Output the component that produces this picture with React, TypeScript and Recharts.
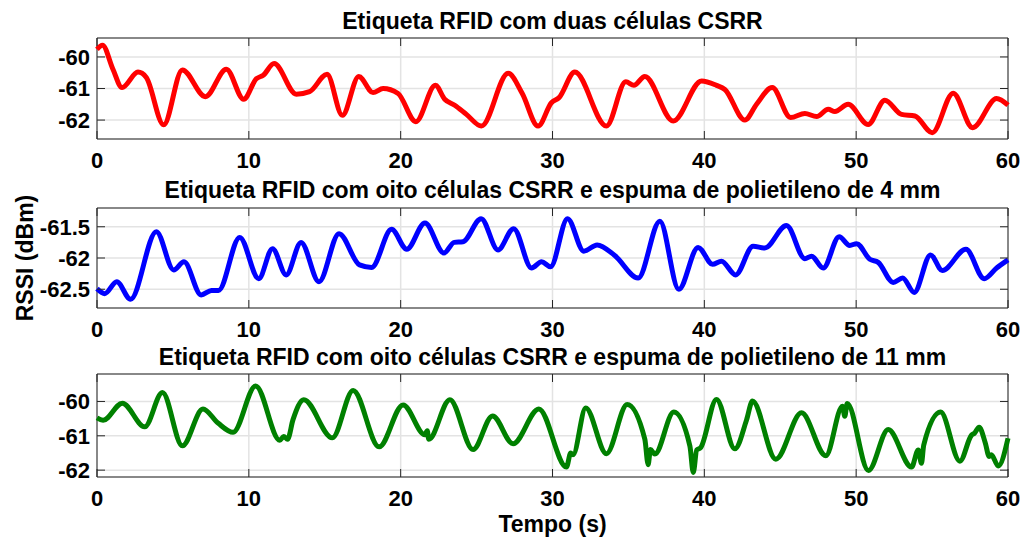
import React from 'react';
import { LineChart, Line, XAxis, YAxis, CartesianGrid, ReferenceArea } from 'recharts';

const FONT = '"Liberation Sans", Arial, Helvetica, sans-serif';
const INK = '#262626';
const GRID = '#e3e3e3';

// layout of the three axes boxes (px)
const CHART_W = 1027;
const PLOT_LEFT = 97;
const PLOT_RIGHT = 1008;
const AXIS_H = 40;
const GAP_X = 13;
const GAP_Y = 7;
const TICK_LEN = 8;

const xTicks = [0, 10, 20, 30, 40, 50, 60];
const xLabel = 'Tempo (s)';
const yLabel = 'RSSI (dBm)';

// painel 1 - duas células
const duasTitle = 'Etiqueta RFID com duas células CSRR';
const duasTempo = [0, 0.36, 1.05, 1.65, 2.7, 3.25, 4.39, 5.62, 7.14, 8.52, 9.66, 10.5, 10.95, 11.66, 13.13, 14.0, 15.15, 16.16, 17.24, 18.18, 18.84, 19.83, 21.0, 22.29, 22.9, 23.56, 24.33, 25.32, 27.08, 28.0, 29.05, 29.93, 30.43, 31.47, 33.55, 34.83, 35.36, 36.08, 37.95, 39.82, 40.8, 41.35, 42.67, 43.44, 44.47, 45.68, 46.62, 47.39, 48.16, 48.6, 49.47, 50.79, 51.89, 52.99, 53.87, 55.01, 56.39, 57.67, 59.25, 60];
const duasRssi = [-59.76, -59.63, -60.39, -60.97, -60.48, -60.65, -62.15, -60.41, -61.26, -60.39, -61.34, -60.69, -60.58, -60.21, -61.18, -61.1, -60.55, -61.85, -60.62, -61.13, -61.0, -61.16, -62.05, -60.9, -61.34, -61.53, -61.82, -62.19, -60.52, -61.15, -62.19, -61.45, -61.29, -60.48, -62.19, -60.79, -60.9, -60.62, -62.03, -60.76, -60.9, -61.03, -62.0, -61.5, -60.97, -61.92, -61.79, -61.89, -61.66, -61.73, -61.5, -62.14, -61.37, -61.82, -61.87, -62.4, -61.15, -62.24, -61.32, -61.53];
const duasDomain: [number, number] = [-62.6, -59.4];
const duasTicks = [-62, -61, -60];

// painel 2 - oito células, espuma 4 mm
const quatroTitle = 'Etiqueta RFID com oito células CSRR e espuma de polietileno de 4 mm';
const quatroTempo = [0, 0.51, 1.3, 2.21, 3.91, 5.05, 5.73, 6.86, 7.54, 8.0, 9.4, 10.65, 11.56, 12.46, 13.44, 14.62, 15.94, 17.29, 18.09, 19.4, 20.4, 21.6, 22.85, 23.53, 24.1, 25.3, 26.41, 27.44, 28.62, 29.28, 29.87, 30.99, 32.06, 32.94, 34.1, 35.64, 37.07, 38.32, 39.59, 40.54, 41.13, 42.06, 43.21, 43.98, 45.41, 46.62, 47.06, 47.83, 48.88, 49.58, 50.03, 50.9, 51.45, 52.44, 53.06, 53.82, 54.9, 55.67, 57.23, 58.43, 59.25, 60];
const quatroRssi = [-62.49, -62.57, -62.38, -62.66, -61.58, -62.19, -62.06, -62.59, -62.52, -62.52, -61.67, -62.33, -61.85, -62.27, -61.75, -62.38, -61.61, -62.11, -62.15, -61.54, -61.86, -61.44, -61.92, -61.75, -61.74, -61.37, -61.87, -61.53, -62.16, -62.06, -62.14, -61.37, -61.89, -61.79, -61.96, -62.32, -61.41, -62.5, -61.83, -62.1, -62.05, -62.27, -61.81, -61.84, -61.48, -62.01, -61.97, -62.16, -61.66, -61.8, -61.77, -62.02, -62.07, -62.39, -62.32, -62.55, -61.95, -62.2, -61.86, -62.33, -62.16, -62.03];
const quatroDomain: [number, number] = [-62.8, -61.2];
const quatroTicks = [-62.5, -62, -61.5];

// painel 3 - oito células, espuma 11 mm
const onzeTitle = 'Etiqueta RFID com oito células CSRR e espuma de polietileno de 11 mm';
const onzeTempo = [0, 0.4, 1.67, 3.14, 4.31, 5.62, 6.98, 7.97, 8.96, 10.45, 12.04, 12.3, 12.55, 12.91, 13.62, 15.5, 16.87, 18.58, 20.16, 21.6, 21.75, 21.85, 23.24, 24.77, 26.05, 27.4, 29.1, 30.92, 31.2, 31.35, 32.19, 33.55, 34.92, 36.08, 36.3, 36.45, 36.74, 37.99, 39.05, 39.27, 39.5, 39.75, 40.8, 42.01, 42.78, 43.17, 44.71, 46.4, 48.0, 49.1, 49.25, 49.41, 50.81, 52.11, 53.65, 54.09, 54.3, 54.45, 55.56, 56.83, 57.6, 57.8, 58.1, 58.5, 58.76, 58.9, 59.36, 60];
const onzeRssi = [-60.48, -60.55, -60.05, -60.74, -59.74, -61.29, -60.22, -60.63, -60.9, -59.55, -61.13, -61.02, -61.1, -60.53, -59.95, -61.06, -59.68, -61.32, -60.1, -60.97, -60.85, -61.1, -59.95, -61.4, -60.42, -61.23, -60.22, -61.91, -61.5, -61.55, -60.19, -61.52, -60.09, -61.1, -61.84, -61.4, -61.53, -60.31, -61.3, -62.07, -61.41, -61.35, -59.94, -61.38, -60.54, -59.99, -61.68, -60.33, -61.58, -60.14, -60.43, -60.06, -62.01, -60.82, -61.91, -61.41, -61.8, -61.27, -60.31, -61.74, -60.98, -60.92, -60.75, -61.2, -61.6, -61.55, -61.88, -61.07];
const onzeDomain: [number, number] = [-62.2, -59.2];
const onzeTicks = [-62, -61, -60];

const toRows = (tempo: number[], rssi: number[]) => tempo.map((t, i) => ({ t, rssi: rssi[i] }));

const tickText = { fontFamily: FONT, fontWeight: 700, fontSize: 22, fill: '#000' };

interface PanelProps {
  rows: { t: number; rssi: number }[];
  color: string;
  domain: [number, number];
  yTicks: number[];
  top: number;
  plotTop: number;
  plotHeight: number;
}

const Panel: React.FC<PanelProps> = ({ rows, color, domain, yTicks, top, plotTop, plotHeight }) => {
  const plotWidth = PLOT_RIGHT - PLOT_LEFT;

  // MATLAB style: ticks point inward, on both sides of the box
  const XTick = (props: any) => {
    const { x, y, payload } = props;
    const axisY = y - GAP_X;
    return (
      <g>
        <line x1={x} x2={x} y1={axisY} y2={axisY - TICK_LEN} stroke={INK} />
        <line x1={x} x2={x} y1={axisY - plotHeight} y2={axisY - plotHeight + TICK_LEN} stroke={INK} />
        <text x={x} y={y} dy="0.71em" textAnchor="middle" style={tickText}>
          {payload.value}
        </text>
      </g>
    );
  };

  const YTick = (props: any) => {
    const { x, y, payload } = props;
    const axisX = x + GAP_Y;
    return (
      <g>
        <line x1={axisX} x2={axisX + TICK_LEN} y1={y} y2={y} stroke={INK} />
        <line x1={axisX + plotWidth} x2={axisX + plotWidth - TICK_LEN} y1={y} y2={y} stroke={INK} />
        <text x={x} y={y} dy="0.355em" textAnchor="end" style={tickText}>
          {payload.value}
        </text>
      </g>
    );
  };

  return (
    <div style={{ position: 'absolute', left: 0, top }}>
      <LineChart
        width={CHART_W}
        height={plotTop + plotHeight + AXIS_H}
        data={rows}
        margin={{ top: plotTop, right: CHART_W - PLOT_RIGHT, bottom: 0, left: 0 }}
      >
        <CartesianGrid stroke={GRID} strokeWidth={1.5} />
        <XAxis
          dataKey="t"
          type="number"
          domain={[0, 60]}
          ticks={xTicks}
          interval={0}
          height={AXIS_H}
          tickSize={0}
          tickMargin={GAP_X}
          axisLine={false}
          tickLine={false}
          tick={XTick}
        />
        <YAxis
          type="number"
          domain={domain}
          ticks={yTicks}
          interval={0}
          width={PLOT_LEFT}
          tickSize={0}
          tickMargin={GAP_Y}
          axisLine={false}
          tickLine={false}
          tick={YTick}
        />
        <Line
          dataKey="rssi"
          type="monotone"
          stroke={color}
          strokeWidth={5}
          dot={false}
          activeDot={false}
          isAnimationActive={false}
        />
        <ReferenceArea
          x1={0}
          x2={60}
          y1={domain[0]}
          y2={domain[1]}
          fill="none"
          stroke={INK}
          strokeWidth={1}
          ifOverflow="visible"
        />
      </LineChart>
    </div>
  );
};

const labelText = { fontFamily: FONT, fontWeight: 700, fontSize: 23, fill: '#000' };
const titleText = { fontFamily: FONT, fontWeight: 700, fontSize: 23, fill: '#000' };

export default function App() {
  const midX = (PLOT_LEFT + PLOT_RIGHT) / 2;
  return (
    <div style={{ position: 'relative', width: CHART_W, height: 538, background: '#fff', overflow: 'hidden' }}>
      <style>{'body{margin:0}'}</style>
      <Panel rows={toRows(duasTempo, duasRssi)} color="#ff0000" domain={duasDomain} yTicks={duasTicks} top={0} plotTop={38} plotHeight={101} />
      <Panel rows={toRows(quatroTempo, quatroRssi)} color="#0000ff" domain={quatroDomain} yTicks={quatroTicks} top={175} plotTop={33} plotHeight={100} />
      <Panel rows={toRows(onzeTempo, onzeRssi)} color="#008000" domain={onzeDomain} yTicks={onzeTicks} top={345} plotTop={29} plotHeight={103} />
      <svg width={CHART_W} height={538} style={{ position: 'absolute', left: 0, top: 0, pointerEvents: 'none' }}>
        <text x={midX} y={29} textAnchor="middle" style={titleText}>{duasTitle}</text>
        <text x={midX} y={198} textAnchor="middle" style={titleText}>{quatroTitle}</text>
        <text x={midX} y={365} textAnchor="middle" style={titleText}>{onzeTitle}</text>
        <text x={midX} y={532} textAnchor="middle" style={labelText}>{xLabel}</text>
        <text x={33} y={258} textAnchor="middle" transform="rotate(-90 33 258)" style={labelText}>{yLabel}</text>
      </svg>
    </div>
  );
}
